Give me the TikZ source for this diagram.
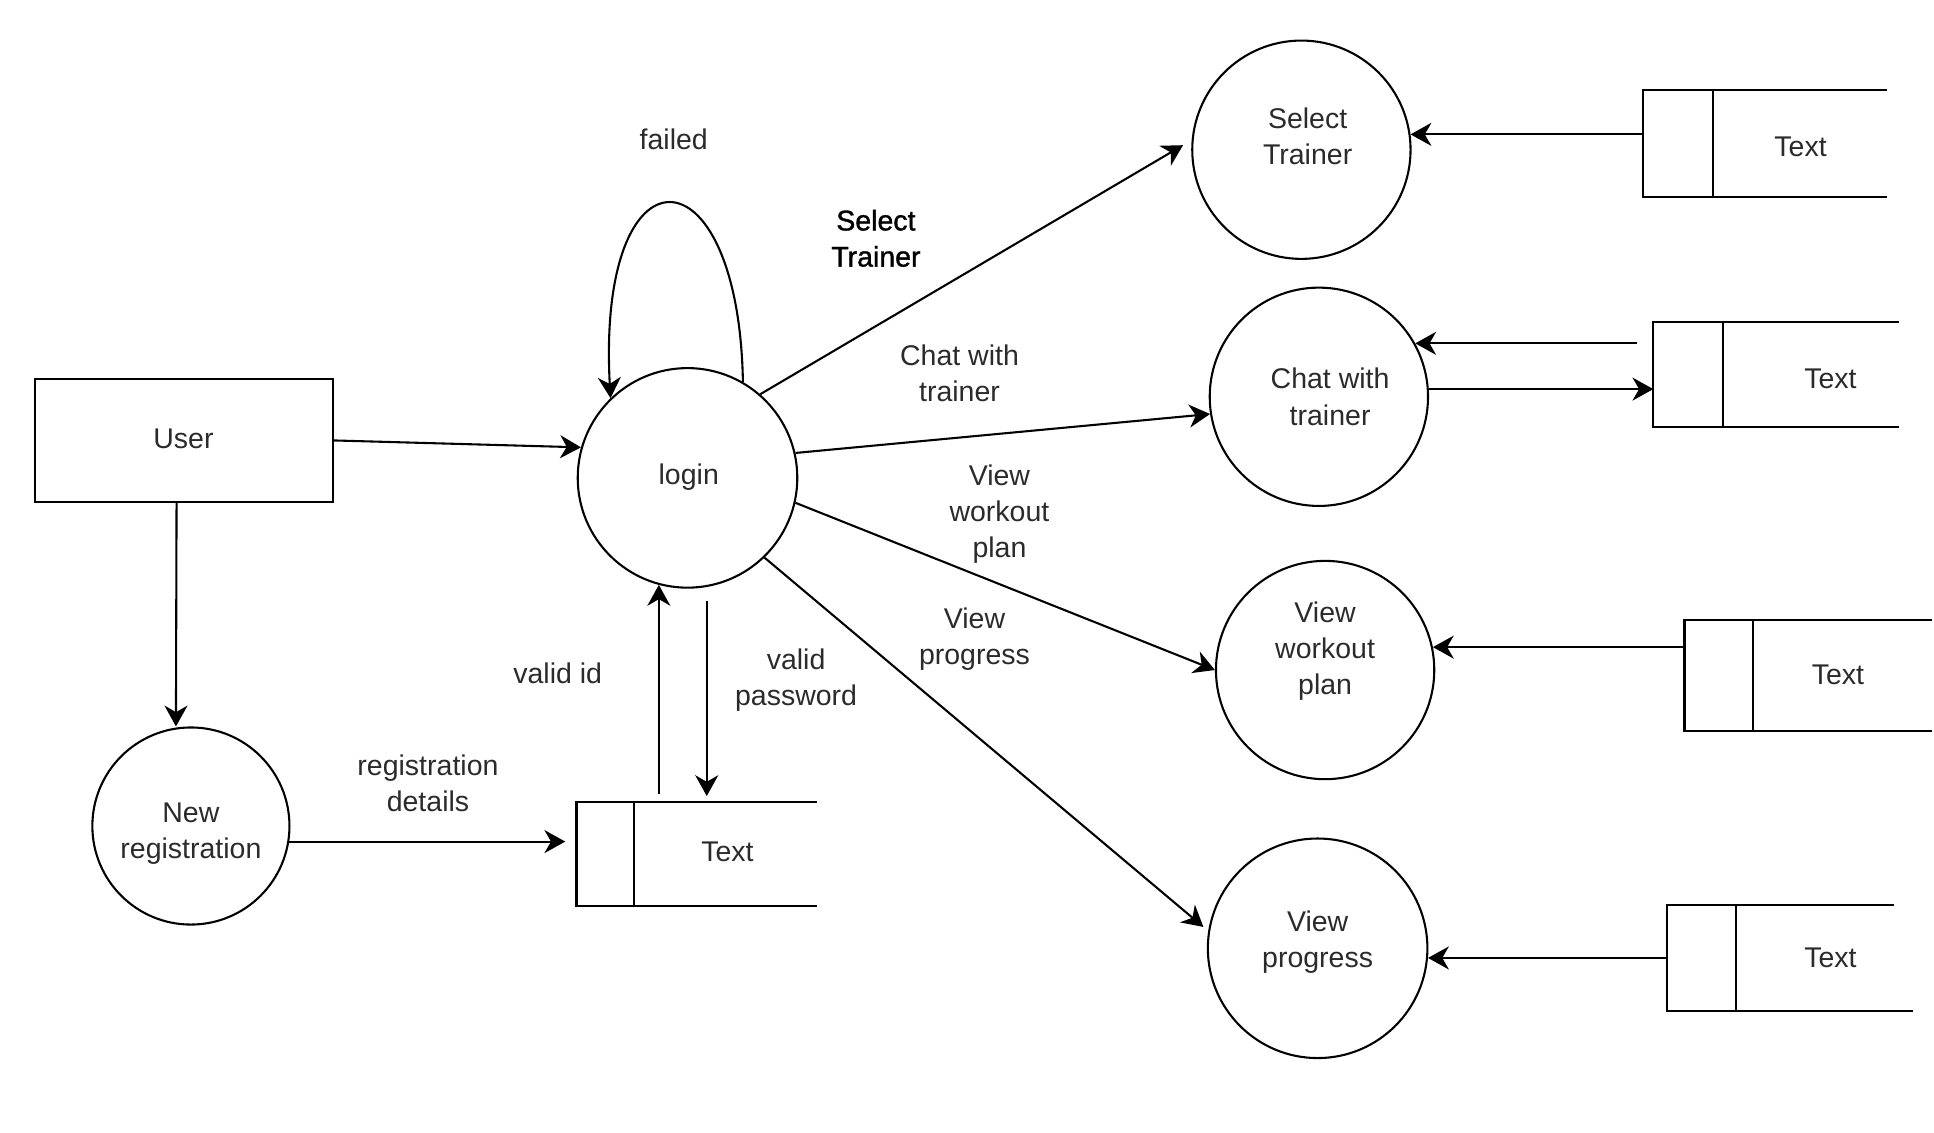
\documentclass[tikz,border=0pt]{standalone}
\usepackage{fontspec}
\setmainfont{Liberation Sans}
\newfontfamily\boldish[FakeBold=1.2]{Liberation Sans}
\usetikzlibrary{arrows.meta}
\definecolor{txt}{HTML}{2B2B2B}
\begin{document}
\begin{tikzpicture}[x=0.02cm, y=-0.02cm, line width=0.95pt,
  arr/.style={-{Stealth[length=9.5pt,width=10.5pt,inset=3pt]}},
  proc/.style={circle, draw, inner sep=0pt},
  storebox/.style={inner sep=0pt, outer sep=0pt},
  lbl/.style={text=txt, align=center, inner sep=0pt, font=\fontsize{13pt}{16.5pt}\selectfont},
  ]
\useasboundingbox (0,0) rectangle (1550,908);

% processes
\node[draw, rectangle, minimum width=4.78cm, minimum height=1.96cm, inner sep=0pt] (User) at (147.5,353) {};
\node[proc, minimum size=3.52cm] (login) at (551,383) {};
\node[proc, minimum size=3.5cm] (SelTr) at (1043,120) {};
\node[proc, minimum size=3.5cm] (Chat) at (1057,318) {};
\node[proc, minimum size=3.5cm] (VW) at (1062,537) {};
\node[proc, minimum size=3.52cm] (VP) at (1056,760) {};
\node[proc, minimum size=3.16cm] (NR) at (153,662) {};

% texts inside shapes
\node[lbl] (tUser) at (147,352) {User};
\node[lbl] (tLogin) at (552,382) {login};
\node[lbl] (tSel) at (1048,109) {Select\\Trainer};
\node[lbl] (tChat) at (1066,318) {Chat with\\trainer};
\node[lbl] (tVW) at (1062,522) {View\\workout\\plan};
\node[lbl] (tVP) at (1056,755) {View\\progress};
\node[lbl] (tNR) at (153,668) {New\\registration};

% data stores
\node[storebox, minimum width=3.9cm, minimum height=1.72cm] (s1) at (1414.5,115) {};
\draw (s1.north east) -- (s1.north west) -- (s1.south west) -- (s1.south east);
\draw ([xshift=1.12cm]s1.north west) -- ([xshift=1.12cm]s1.south west);
\node[lbl] (s1t) at (1443,118) {Text};

\node[storebox, minimum width=3.94cm, minimum height=1.68cm] (s2) at (1423.5,300) {};
\draw (s2.north east) -- (s2.north west) -- (s2.south west) -- (s2.south east);
\draw ([xshift=1.12cm]s2.north west) -- ([xshift=1.12cm]s2.south west);
\node[lbl] (s2t) at (1467,304) {Text};

\node[storebox, minimum width=3.96cm, minimum height=1.78cm] (s3) at (1449,541.5) {};
\draw (s3.north east) -- (s3.north west) -- (s3.south west) -- (s3.south east);
\draw ([xshift=1.1cm]s3.north west) -- ([xshift=1.1cm]s3.south west);
\node[lbl] (s3t) at (1473,541) {Text};

\node[storebox, minimum width=3.94cm, minimum height=1.7cm] (s4) at (1434.5,767.5) {};
\draw ([xshift=-0.3cm]s4.north east) -- (s4.north west) -- (s4.south west) -- (s4.south east);
\draw ([xshift=1.1cm]s4.north west) -- ([xshift=1.1cm]s4.south west);
\node[lbl] (s4t) at (1467,768) {Text};

\node[storebox, minimum width=3.86cm, minimum height=1.66cm] (s5) at (558.5,684.5) {};
\draw (s5.north east) -- (s5.north west) -- (s5.south west) -- (s5.south east);
\draw ([xshift=0.92cm]s5.north west) -- ([xshift=0.92cm]s5.south west);
\node[lbl] (s5t) at (583,683) {Text};

% connectors
\draw[arr] (User.east) -- (login.164);
\draw[arr] ([xshift=-0.12cm]User.south) -- ([xshift=-0.24cm]NR.north);
\draw[arr, shorten >=0.18cm] (NR.-9.5) -- (NR.-9.5 -| s5.west);
\draw[arr, shorten <=0.14cm] (login.255 |- s5.north) -- (login.255);
\draw[arr, shorten <=0.22cm, shorten >=0.1cm] (login.-80) -- (login.-80 |- s5.north);
\draw[arr] (login.60) .. controls (592,115) and (478,112) .. (login.134);

\draw[arr, shorten >=0.16cm] (login.49) -- (SelTr.175);
\draw[arr] (login.13) -- (Chat.189);
\draw[arr] (login.-13) -- (VW.west);
\draw[arr, shorten >=0.1cm] (login.-46) -- (VP.171);

\draw[arr] (SelTr.8 -| s1.west) -- (SelTr.8);
\draw[arr, shorten <=0.26cm] (Chat.29.4 -| s2.west) -- (Chat.29.4);
\draw[arr] (Chat.4.6) -- (Chat.4.6 -| s2.west);
\draw[arr] (VW.12 -| s3.west) -- (VW.12);
\draw[arr] (VP.-5.2 -| s4.west) -- (VP.-5.2);

% connector labels
\node[lbl] (lFail) at (540,112) {failed};
\node[lbl, text=black, font=\boldish\fontsize{13pt}{16.5pt}\selectfont] (lSel) at (702,191) {Select\\Trainer};
\node[lbl] (lChat) at (769,299) {Chat with\\trainer};
\node[lbl] (lVW) at (801,412) {View\\workout\\plan};
\node[lbl] (lVP) at (781,512) {View\\progress};
\node[lbl] (lVid) at (447,540) {valid id};
\node[lbl] (lVpw) at (638,545) {valid\\password};
\node[lbl] (lReg) at (343,628) {registration\\details};
\end{tikzpicture}
\end{document}
